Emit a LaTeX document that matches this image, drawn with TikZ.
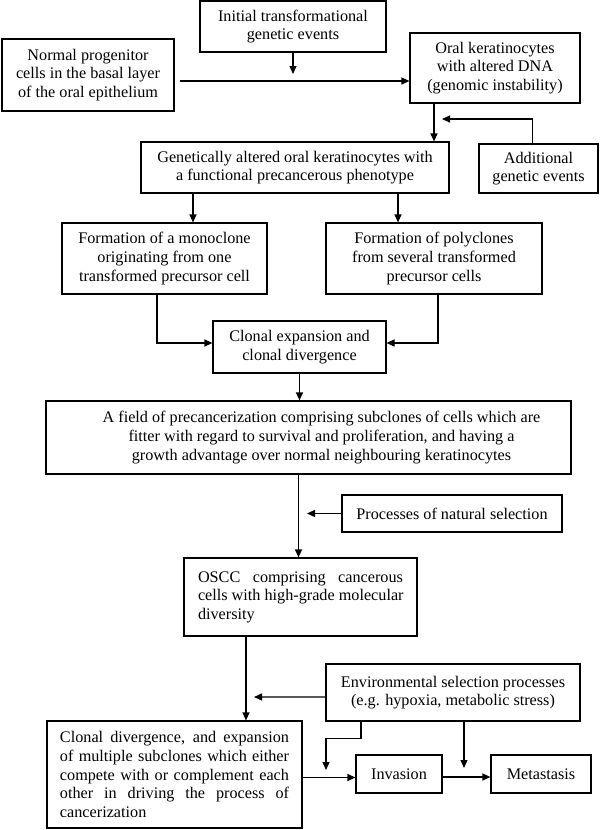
\documentclass[tikz,border=0pt]{standalone}
\usepackage{fontspec}
\setmainfont{Liberation Serif}
\usetikzlibrary{arrows.meta}

\newcommand{\jline}[2]{\leavevmode\hbox to #1{\spaceskip=.25em plus 1fil\relax #2}\\}

\begin{document}
\begin{tikzpicture}[x=1bp,y=1bp]
\tikzstyle{every node}+=[inner sep=0pt]
\tikzstyle{box}=[draw=black, line width=1.2bp, align=center, font=\fontsize{16.2bp}{18.6bp}\selectfont]
\tikzstyle{arr}=[black, line width=1.2bp, -{Triangle[length=8bp,width=7bp]}]
\useasboundingbox (0,0) rectangle (600,-830);
\node (init) [box, minimum width=186bp, minimum height=51bp] at (293,-26.5) {Initial transformational\\genetic events};
\node (normal) [box, minimum width=172bp, minimum height=72bp] at (88,-75) {Normal progenitor\\cells in the basal layer\\of the oral epithelium};
\node (oral) [box, minimum width=170bp, minimum height=70bp] at (495,-68) {Oral keratinocytes\\with altered DNA\\(genomic instability)};
\node (genet) [box, minimum width=308bp, minimum height=51bp] at (295,-167.5) {Genetically altered oral keratinocytes with\\a functional precancerous phenotype};
\node (addl) [box, minimum width=119bp, minimum height=49bp] at (538.5,-168.5) {Additional\\genetic events};
\node (mono) [box, minimum width=205bp, minimum height=71bp] at (164.5,-258.5) {Formation of a monoclone\\originating from one\\transformed precursor cell};
\node (poly) [box, minimum width=216bp, minimum height=71bp] at (434,-258.5) {Formation of polyclones\\from several transformed\\precursor cells};
\node (clonal) [box, minimum width=173bp, minimum height=52bp] at (299.5,-347) {Clonal expansion and\\clonal divergence};
\node (field) [box, minimum width=525bp, minimum height=73bp] at (308.5,-437.5) {\hspace*{26bp}A field of precancerization comprising subclones of cells which are\\\hspace*{26bp}fitter with regard to survival and proliferation, and having a\\\hspace*{26bp}growth advantage over normal neighbouring keratinocytes};
\node (natsel) [box, minimum width=220bp, minimum height=37bp] at (452,-513.5) {Processes of natural selection};
\node (oscc) [box, align=left, text width=205bp, minimum width=233bp, minimum height=78bp] at (300.5,-597) {\jline{205bp}{OSCC comprising cancerous}\jline{205bp}{cells with high-grade molecular}diversity};
\node (env) [box, minimum width=254bp, minimum height=57bp] at (453,-692.5) {Environmental selection processes\\(e.g. hypoxia, metabolic stress)};
\node (cdiv) [box, align=left, text width=229bp, minimum width=255bp, minimum height=107bp] at (174.5,-774.5) {\jline{229bp}{Clonal divergence, and expansion}\jline{229bp}{of multiple subclones which either}\jline{229bp}{compete with or complement each}\jline{229bp}{other in driving the process of}cancerization};
\node (inv) [box, minimum width=86bp, minimum height=38bp] at (399,-774) {Invasion};
\node (meta) [box, minimum width=100bp, minimum height=38bp] at (541,-774) {Metastasis};
% free ends
\coordinate (initend) at (293,-74);
\coordinate (addin) at (442,-119);
\coordinate (natin) at (307,-513.5);
\coordinate (envin) at (254,-697);
\coordinate (envinv) at (326,-770);
\coordinate (envmeta) at (464,-768);
% connectors
\draw [arr] (init) -- (initend);
\draw [arr] ([xshift=5bp,yshift=-6bp]normal.east) -- ([yshift=-6bp]normal.east -| oral.west);
\draw [arr] ([xshift=-61bp]oral.south) -- ([xshift=-61bp]oral.south |- genet.north);
\draw [arr] ([xshift=-6bp]addl.north) |- (addin);
\draw [arr] ([xshift=-102bp]genet.south) -- ([xshift=-102bp]genet.south |- mono.north);
\draw [arr] ([xshift=103bp]genet.south) -- ([xshift=103bp]genet.south |- poly.north);
\draw [arr] ([xshift=-7.5bp]mono.south) |- ([yshift=4bp]clonal.west);
\draw [arr] ([xshift=4bp]poly.south) |- ([yshift=4bp]clonal.east);
\draw [arr] (clonal.south) -- (clonal.south |- field.north);
\draw [arr] ([xshift=-10bp]field.south) -- ([xshift=-10bp]field.south |- oscc.north);
\draw [arr] (natsel) -- (natin);
\draw [arr] ([xshift=-54.5bp]oscc.south) -- ([xshift=-54.5bp]oscc.south |- cdiv.north);
\draw [arr] ([yshift=-4.5bp]env.west) -- (envin);
\draw [arr] ([yshift=-3bp]cdiv.east) -- ([yshift=-3bp]cdiv.east -| inv.west);
\draw [arr] ([yshift=-3bp]inv.east) -- ([yshift=-3bp]inv.east -| meta.west);
\draw [arr] ([xshift=-92bp]env.south) -- ++(0,-17) -| (envinv);
\draw [arr] (env.south -| envmeta) -- (envmeta);
\end{tikzpicture}
\end{document}
